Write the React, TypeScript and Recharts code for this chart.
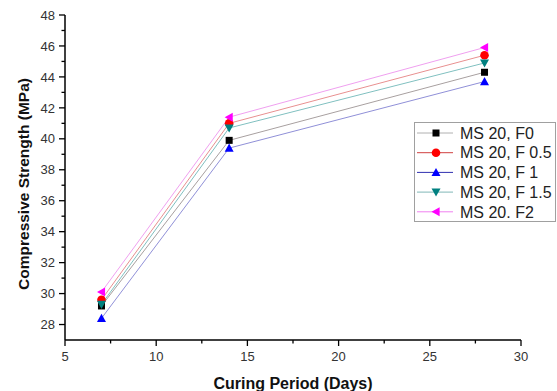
import React from 'react';
import { LineChart, Line, XAxis, YAxis, Legend } from 'recharts';

const days = [7, 14, 28];
const f0 = [29.2, 39.9, 44.3];
const f05 = [29.6, 41.0, 45.4];
const f1 = [28.4, 39.4, 43.7];
const f15 = [29.3, 40.7, 44.9];
const f2 = [30.1, 41.4, 45.9];
const seriesNames = ['MS 20, F0', 'MS 20, F 0.5', 'MS 20, F 1', 'MS 20, F 1.5', 'MS 20. F2'];
const seriesKeys = ['f0', 'f05', 'f1', 'f15', 'f2'];
const xTicks = [5, 7.5, 10, 12.5, 15, 17.5, 20, 22.5, 25, 27.5, 30];
const xLabels = [5, 10, 15, 20, 25, 30];
const yTicks = [28, 29, 30, 31, 32, 33, 34, 35, 36, 37, 38, 39, 40, 41, 42, 43, 44, 45, 46, 47, 48];
const yLabels = [28, 30, 32, 34, 36, 38, 40, 42, 44, 46, 48];

const data = days.map((d, i) => ({ day: d, f0: f0[i], f05: f05[i], f1: f1[i], f15: f15[i], f2: f2[i] }));

const FONT = '"Liberation Sans", Arial, sans-serif';

const styles = [
  { shape: 'square', fill: '#000000', line: '#a8a0a0', legendLine: '#b0b0b0' },
  { shape: 'circle', fill: '#ff0000', line: '#e89090', legendLine: '#d04040' },
  { shape: 'up', fill: '#0000ff', line: '#9090d8', legendLine: '#3030b0' },
  { shape: 'down', fill: '#008080', line: '#80c0c0', legendLine: '#80b8b8' },
  { shape: 'left', fill: '#ff00ff', line: '#f0a0f0', legendLine: '#f080f0' },
];

function Marker({ cx, cy, shape, fill }: { cx: number; cy: number; shape: string; fill: string }) {
  const s = 4.5;
  if (shape === 'square') return <rect x={cx - 3.5} y={cy - 3.5} width={7} height={7} fill={fill} />;
  if (shape === 'circle') return <circle cx={cx} cy={cy} r={4.3} fill={fill} />;
  if (shape === 'up') return <polygon points={`${cx},${cy - s} ${cx + s},${cy + s * 0.8} ${cx - s},${cy + s * 0.8}`} fill={fill} />;
  if (shape === 'down') return <polygon points={`${cx},${cy + s} ${cx + s},${cy - s * 0.8} ${cx - s},${cy - s * 0.8}`} fill={fill} />;
  return <polygon points={`${cx - s},${cy} ${cx + s * 0.8},${cy - s} ${cx + s * 0.8},${cy + s}`} fill={fill} />;
}

const makeDot = (shape: string, fill: string) => (p: any) => (
  <Marker key={`${shape}-${p.index}`} cx={p.cx} cy={p.cy} shape={shape} fill={fill} />
);

const XTick = (props: any) => {
  const { x, y, payload } = props;
  const major = xLabels.includes(payload.value);
  const ay = y - 12;
  return (
    <g>
      <line x1={x} x2={x} y1={ay} y2={ay + (major ? 6 : 3.5)} stroke="#000" strokeWidth={1.3} />
      {major && (
        <text x={x} y={y} dy="0.71em" textAnchor="middle" fontSize={13} fontFamily={FONT} fill="#333">
          {payload.value}
        </text>
      )}
    </g>
  );
};

const YTick = (props: any) => {
  const { x, y, payload } = props;
  const major = yLabels.includes(payload.value);
  const ax = x + 10;
  return (
    <g>
      <line x1={ax} x2={ax - (major ? 6 : 3.5)} y1={y} y2={y} stroke="#000" strokeWidth={1.3} />
      {major && (
        <text x={x} y={y} dy="0.36em" textAnchor="end" fontSize={13} fontFamily={FONT} fill="#333">
          {payload.value}
        </text>
      )}
    </g>
  );
};

const LegendBox = () => (
  <div style={{ width: 142, height: 100, border: '1px solid #a0a0a0', boxSizing: 'border-box', background: '#fff' }}>
    <svg width={140} height={98} style={{ display: 'block' }}>
      {seriesNames.map((name, i) => {
        const cy = 10 + i * 19.7;
        const st = styles[i];
        return (
          <g key={name}>
            <line x1={2} x2={38} y1={cy} y2={cy} stroke={st.legendLine} strokeWidth={1} />
            <Marker cx={21} cy={cy} shape={st.shape} fill={st.fill} />
            <text x={45} y={cy} dy="0.36em" fontSize={16} fontFamily={FONT} fill="#222">
              {name}
            </text>
          </g>
        );
      })}
    </svg>
  </div>
);

export default function App() {
  return (
    <div style={{ position: 'absolute', left: 0, top: 0, width: 557, height: 391, background: '#fff' }}>
      <LineChart width={557} height={391} data={data} margin={{ top: 15, right: 36, left: 0, bottom: 0 }}>
        <XAxis
          type="number"
          dataKey="day"
          domain={[5, 30]}
          ticks={xTicks}
          interval={0}
          height={51}
          tickSize={6}
          tickMargin={6}
          tickLine={false}
          axisLine={{ stroke: '#000', strokeWidth: 1.5 }}
          tick={<XTick />}
          label={(p: any) => {
            const vb = p.viewBox || {};
            return (
              <text x={vb.x + vb.width / 2} y={383} dy="0.36em" textAnchor="middle" fontSize={16} fontWeight="bold" fontFamily={FONT} fill="#111">
                Curing Period (Days)
              </text>
            );
          }}
        />
        <YAxis
          type="number"
          domain={[27, 48]}
          ticks={yTicks}
          interval={0}
          width={65}
          tickSize={6}
          tickMargin={4}
          tickLine={false}
          axisLine={{ stroke: '#000', strokeWidth: 1.5 }}
          tick={<YTick />}
          label={() => (
            <text x={23} y={184} dy="0.36em" transform="rotate(-90 23 184)" textAnchor="middle" fontSize={15.5} fontWeight="bold" fontFamily={FONT} fill="#111">
              Compressive Strength (MPa)
            </text>
          )}
        />
        {seriesKeys.map((k, i) => (
          <Line
            key={k}
            type="linear"
            dataKey={k}
            name={seriesNames[i]}
            stroke={styles[i].line}
            strokeWidth={1}
            dot={makeDot(styles[i].shape, styles[i].fill)}
            activeDot={false}
            isAnimationActive={false}
          />
        ))}
        <Legend
          layout="horizontal"
          verticalAlign="middle"
          align="center"
          wrapperStyle={{ position: 'absolute', left: 414, top: 122, width: 142, height: 100 }}
          content={() => <LegendBox />}
        />
      </LineChart>
    </div>
  );
}
